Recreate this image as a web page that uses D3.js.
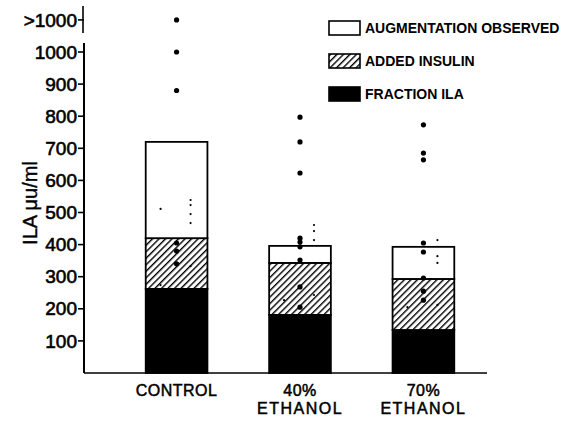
<!DOCTYPE html>
<html lang="en">
<head>
    <meta charset="UTF-8">
    <title>ILA chart</title>
    <script src="https://d3js.org/d3.v7.min.js"></script>
    <style>
        body { margin: 0; background: #fff; }
        svg { display: block; font-family: "Liberation Sans", Arial, sans-serif; }
        .tick-label { font-size: 19px; fill: #000; stroke: #000; stroke-width: 0.6px; }
        .legend-text { font-size: 14px; font-weight: bold; fill: #000; }
        .cat-label { font-size: 16px; fill: #000; stroke: #000; stroke-width: 0.5px; }
    </style>
</head>
<body>
    <svg width="573" height="423"></svg>
    <script>
        // Data
        const categories = ["CONTROL", "40% ETHANOL", "70% ETHANOL"];
        const fractionIla = [262, 181, 134];
        const addedInsulin = [158, 162, 159];
        const augmentation = [300, 53, 100];
        const yTicks = [100, 200, 300, 400, 500, 600, 700, 800, 900, 1000];
        const overTick = 1100; // position used for the ">1000" row
        // individual observations
        const bigDots = [
            [1100, 1000, 880, 405, 380, 340],
            [797, 720, 623, 420, 408, 393, 352, 268, 205],
            [773, 685, 664, 405, 377, 296, 255, 227]
        ];
        const smallDotsRight = [
            [539, 523, 495, 467, 333],
            [461, 442, 414, 243],
            [414, 364, 343, 212]
        ];
        const smallDotsLeft = [[511, 274], [227], [205]];
        const legendItems = ["AUGMENTATION OBSERVED", "ADDED INSULIN", "FRACTION ILA"];

        const svg = d3.select("svg");

        // hatch pattern
        const pat = svg.append("defs").append("pattern")
            .attr("id", "hatch")
            .attr("patternUnits", "userSpaceOnUse")
            .attr("width", 4.6).attr("height", 4.6)
            .attr("patternTransform", "rotate(45)");
        pat.append("rect").attr("width", 4.6).attr("height", 4.6).attr("fill", "#fff");
        pat.append("line").attr("x1", 0).attr("y1", 0).attr("x2", 0).attr("y2", 4.6)
            .attr("stroke", "#000").attr("stroke-width", 2.8);

        const x = d3.scaleBand().domain(categories).range([84, 516]).padding(0.5);
        const y = d3.scaleLinear().domain([0, 1000]).range([373, 52]);

        // stacked bars
        const rows = categories.map((c, i) => ({
            cat: c, frac: fractionIla[i], ins: addedInsulin[i], aug: augmentation[i]
        }));
        const stack = d3.stack().keys(["frac", "ins", "aug"])(rows);
        const fills = {frac: "#000", ins: "url(#hatch)", aug: "#fff"};

        svg.append("g").selectAll("g")
            .data(stack)
            .join("g")
            .attr("fill", d => fills[d.key])
            .selectAll("rect")
            .data(d => d)
            .join("rect")
            .attr("x", d => x(d.data.cat))
            .attr("y", d => y(d[1]))
            .attr("width", x.bandwidth())
            .attr("height", d => y(d[0]) - y(d[1]))
            .attr("stroke", "#000")
            .attr("stroke-width", 1.8);

        // dots
        const dotG = svg.append("g").attr("fill", "#000");
        categories.forEach((c, i) => {
            const cx = x(c) + x.bandwidth() / 2;
            dotG.selectAll(null).data(bigDots[i]).join("circle")
                .attr("cx", cx).attr("cy", d => y(d)).attr("r", 2.6);
            dotG.selectAll(null).data(smallDotsRight[i]).join("circle")
                .attr("cx", cx + 14).attr("cy", d => y(d)).attr("r", 1.1);
            dotG.selectAll(null).data(smallDotsLeft[i]).join("circle")
                .attr("cx", cx - 16).attr("cy", d => y(d)).attr("r", 1.1);
        });

        // y axis
        const axis = svg.append("g");
        axis.append("line").attr("x1", 84).attr("x2", 84)
            .attr("y1", y(0)).attr("y2", 43)
            .attr("stroke", "#000").attr("stroke-width", 2);
        axis.append("line").attr("x1", 83).attr("x2", 83)
            .attr("y1", 6).attr("y2", 33)
            .attr("stroke", "#000").attr("stroke-width", 1.6);
        axis.selectAll(".t").data(yTicks.concat([overTick])).join("line")
            .attr("x1", 78).attr("x2", 84)
            .attr("y1", d => y(d)).attr("y2", d => y(d))
            .attr("stroke", "#000").attr("stroke-width", 1.6);
        axis.selectAll("text").data(yTicks).join("text")
            .attr("class", "tick-label")
            .attr("x", 77).attr("y", d => y(d))
            .attr("dy", "0.35em")
            .attr("text-anchor", "end")
            .text(d => d);
        axis.append("text")
            .attr("class", "tick-label")
            .attr("x", 77).attr("y", y(overTick)).attr("dy", "0.35em")
            .attr("text-anchor", "end")
            .text(">1000");

        // baseline
        svg.append("line").attr("x1", 84).attr("x2", 487)
            .attr("y1", y(0)).attr("y2", y(0))
            .attr("stroke", "#000").attr("stroke-width", 1.6);

        // y label
        svg.append("text")
            .attr("transform", "translate(37,203) rotate(-90)")
            .attr("text-anchor", "middle")
            .style("font-size", "20px")
            .style("stroke", "#000").style("stroke-width", "0.4px")
            .text("ILA \u03bcu/ml");

        // category labels
        categories.forEach(c => {
            const parts = c.split(" ");
            const t = svg.append("text").attr("class", "cat-label")
                .attr("text-anchor", "middle")
                .attr("x", x(c) + x.bandwidth() / 2)
                .attr("y", 396);
            parts.forEach((p, k) => {
                t.append("tspan")
                    .attr("x", x(c) + x.bandwidth() / 2)
                    .attr("dy", k === 0 ? 0 : 18)
                    .style("letter-spacing", k === 0 ? "0.5px" : "1.5px")
                    .text(p);
            });
        });

        // legend
        const leg = svg.append("g");
        const legFills = ["#fff", "url(#hatch)", "#000"];
        legendItems.forEach((t, i) => {
            const cy = 28 + i * 33;
            leg.append("rect").attr("x", 329).attr("y", cy - 7)
                .attr("width", 31).attr("height", 14)
                .attr("fill", legFills[i]).attr("stroke", "#000").attr("stroke-width", 1.6);
            leg.append("text").attr("class", "legend-text")
                .attr("x", 365).attr("y", cy).attr("dy", "0.36em")
                .text(t);
        });
    </script>
</body>
</html>
